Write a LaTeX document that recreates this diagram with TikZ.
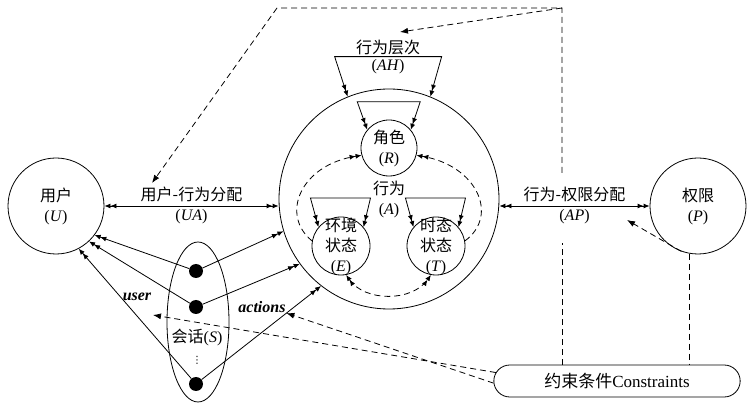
\documentclass[tikz,border=0pt]{standalone}
\usepackage{fontspec}
\setmainfont{Liberation Serif}
\newfontfamily\cjk{Noto Sans CJK SC}
\newfontfamily\symf{DejaVu Sans}
\usetikzlibrary{arrows.meta,shapes.geometric,shapes.misc}
\newcommand{\zh}[1]{{\cjk #1}}
\tikzset{
  dt/.tip     = {Latex[length=6pt,width=5pt] Latex[length=6pt,width=5pt]},
  ent/.style  = {circle, draw, line width=0.8pt, inner sep=-6pt},
  dlink/.style = {line width=0.8pt, -{dt}},
  blink/.style = {line width=0.8pt, {dt}-{dt}},
  dsh/.style  = {line width=0.8pt, dash pattern=on 6pt off 4pt},
  dsha/.style = {dsh, -{Latex[length=8pt,width=6pt]}},
  sdot/.style = {circle, fill, inner sep=0pt, minimum size=14pt},
  tag/.style  = {font=\bfseries\itshape\fontsize{16}{20}\selectfont},
}

\begin{document}
\begin{tikzpicture}[x=1pt, y=1pt, every node/.style={align=center, font=\fontsize{16}{20}\selectfont}]
\useasboundingbox (0,0) rectangle (750,-403);

% entities
\node[ent, minimum size=96pt]  (U) at (56,-206)  {\zh{用户}\\(\textit{U})};
\node[ent, minimum size=220pt] (A) at (389,-199) {\zh{行为}\\(\textit{A})};
\node[ent, minimum size=56pt]  (R) at (389,-148) {\zh{角色}\\(\textit{R})};
\node[ent, minimum size=58pt]  (E) at (341,-246) {\zh{环境}\\\zh{状态}\\(\textit{E})};
\node[ent, minimum size=58pt]  (T) at (436,-246) {\zh{时态}\\\zh{状态}\\(\textit{T})};
\node[ent, minimum size=96pt]  (P) at (698,-206) {\zh{权限}\\(\textit{P})};
\node[draw, rounded rectangle, line width=0.8pt, minimum width=253pt, minimum height=32pt,
  font=\fontsize{17}{20}\selectfont] (C) at (617,-381) {\zh{约束条件}Constraints};

% session
\node[draw, ellipse, line width=0.8pt, minimum width=62pt, minimum height=160pt] (S) at (198,-322) {};
\node[sdot] (s1) at (196,-271) {};
\node[sdot] (s2) at (196,-307) {};
\node[sdot] (s3) at (196,-384) {};
\node (st) at (197,-337) {\zh{会话}(\textit{S})};
\node[font=\symf\fontsize{10}{10}\selectfont, inner sep=0pt] (sv) at (197,-360) {⋮};
\node[tag] (usl) at (137,-297) {user};
\node[tag] (acl) at (262,-307) {actions};

% assignments
\draw[blink] (U.east) -- (A.west |- U.east)
  node[midway, above] (ual) {\zh{用户-行为分配}}
  node[midway, below] (uab) {(\textit{UA})};
\draw[blink] (A.east |- P.west) -- (P.west)
  node[midway, above] (apl) {\zh{行为-权限分配}}
  node[midway, below] (apb) {(\textit{AP})};

% hierarchies
\node (ahl) at (388,-47) {\zh{行为层次}};
\node (ahb) at (388,-67) {(\textit{AH})};
\draw[blink] (A.112) -- ++(-13,40) -- ++(107,0) -- (A.68);
\draw[blink] (R.140) -- ++(-10,28) -- ++(63,0) -- (R.40);
\draw[blink] (E.140) -- ++(-8,29) -- ++(60,0) -- (E.40);
\draw[blink] (T.140) -- ++(-8,29) -- ++(60,0) -- (T.40);

% inner dashed relations
\draw[dsh, -{dt}] (E.170) .. controls (280,-215) and (300,-165) .. (R.195);
\draw[dsh, -{dt}] (T.10) .. controls (500,-215) and (476,-165) .. (R.-15);
\draw[dsh, {dt}-{dt}] (E.-80) to[out=-55, in=-125] (T.-100);

% session links
\draw[dlink] (s1) -- (U.-37);
\draw[dlink] (s2) -- (U.-47);
\draw[dlink] (s3) -- (U.-62);
\draw[dlink] (s1) -- (A.197);
\draw[dlink] (s2) -- (A.216);
\draw[dlink] (s3) -- coordinate[pos=0.71] (act) (A.232);

% constraints
\coordinate (tr)   at (562,-8);
\coordinate (tl)   at (277,-8);
\coordinate (gapt) at (562,-173);
\coordinate (gapb) at (562,-243);
\coordinate (uaa)  at (152,-183);
\coordinate (aha)  at (400,-32);
\coordinate (usr)  at (153,-315);
\coordinate (apa)  at (627,-220);
\draw[dsh] (C.north -| gapb) -- (gapb);
\draw[dsha] (gapt) -- (tr) -- (tl) -- (uaa);
\draw[dsha] (tr) -- (aha);
\draw[dsha] (C.176) -- (usr);
\draw[dsha] (C.181) -- (act);
\draw[dsha] (P.250) -- (apa);
\draw[dsh] (P.260) -- (P.260 |- C.north);
\end{tikzpicture}
\end{document}
